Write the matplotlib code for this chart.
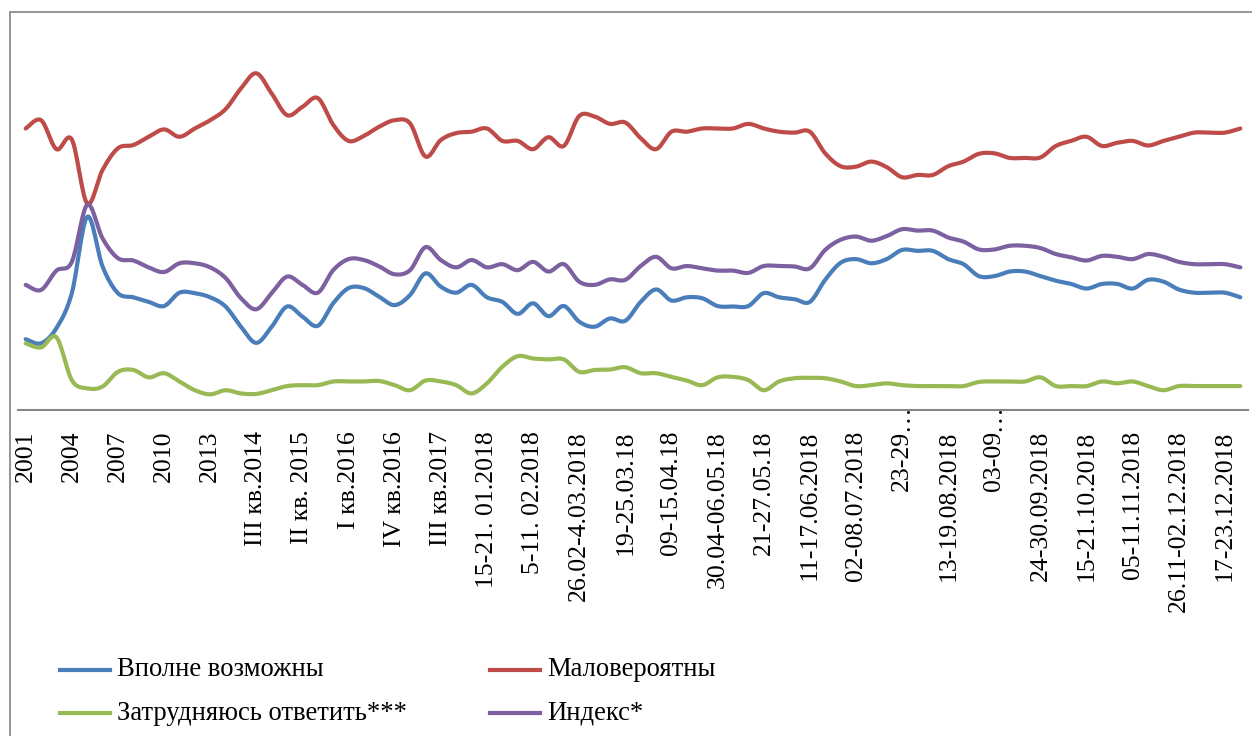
import numpy as np
import matplotlib
matplotlib.use("Agg")
import matplotlib.pyplot as plt
from matplotlib.lines import Line2D
from matplotlib.patches import Rectangle

# ---------------- data ----------------
tick_labels = ["2001", "2004", "2007", "2010", "2013", "III кв.2014", "II кв. 2015",
               "I кв.2016", "IV кв.2016", "III кв.2017", "15-21. 01.2018", "5-11. 02.2018",
               "26.02-4.03.2018", "19-25.03.18", "09-15.04.18", "30.04-06.05.18",
               "21-27.05.18", "11-17.06.2018", "02-08.07.2018", "23-29…", "13-19.08.2018",
               "03-09…", "24-30.09.2018", "15-21.10.2018", "05-11.11.2018",
               "26.11-02.12.2018", "17-23.12.2018"]
label_step = 3

vpolne = [15.4, 14.5, 17.8, 25.4, 42.0, 31.2, 25.4, 24.5, 23.5, 22.6,
          25.5, 25.4, 24.5, 22.5, 18.1, 14.6, 18.1, 22.5, 20.3, 18.3,
          23.2, 26.5, 26.5, 24.6, 22.8, 25.0, 29.7, 26.8, 25.5, 27.2,
          24.5, 23.5, 20.9, 23.2, 20.4, 22.6, 19.2, 18.1, 19.9, 19.4,
          23.5, 26.2, 23.8, 24.5, 24.3, 22.6, 22.5, 22.6, 25.4, 24.5,
          24.1, 23.5, 28.3, 32.0, 32.8, 31.9, 32.8, 34.8, 34.6, 34.6,
          32.8, 31.7, 29.1, 29.1, 30.1, 30.1, 29.1, 28.1, 27.4, 26.4,
          27.4, 27.4, 26.4, 28.3, 27.9, 26.2, 25.5, 25.5, 25.5, 24.5]

malover = [61.2, 63.0, 56.7, 58.8, 44.9, 52.2, 56.9, 57.6, 59.4, 61.0,
           59.4, 61.2, 63.0, 65.4, 69.9, 73.2, 68.8, 64.1, 65.9, 67.8,
           62.0, 58.5, 59.6, 61.6, 63.0, 62.3, 55.1, 58.7, 60.2, 60.5,
           61.2, 58.5, 58.5, 56.7, 59.3, 57.4, 63.9, 63.8, 62.2, 62.5,
           59.1, 56.7, 60.5, 60.5, 61.2, 61.2, 61.2, 62.2, 61.2, 60.5,
           60.3, 60.5, 55.8, 53.0, 52.9, 54.0, 52.8, 50.6, 51.1, 51.1,
           53.0, 54.0, 55.7, 55.8, 54.8, 54.8, 54.9, 57.4, 58.5, 59.4,
           57.4, 58.1, 58.5, 57.5, 58.5, 59.4, 60.3, 60.3, 60.3, 61.2]

zatrud = [14.5, 13.6, 15.8, 6.5, 4.7, 5.1, 8.3, 8.7, 7.1, 8.0,
          6.2, 4.3, 3.4, 4.3, 3.6, 3.5, 4.3, 5.2, 5.4, 5.4,
          6.2, 6.2, 6.2, 6.3, 5.4, 4.3, 6.4, 6.2, 5.4, 3.6,
          5.8, 9.4, 11.7, 11.2, 11.0, 11.0, 8.3, 8.7, 8.8, 9.3,
          8.0, 8.0, 7.2, 6.4, 5.4, 7.1, 7.2, 6.5, 4.3, 6.2,
          6.9, 7.0, 6.9, 6.2, 5.2, 5.4, 5.8, 5.4, 5.2, 5.2,
          5.2, 5.2, 6.1, 6.2, 6.2, 6.2, 7.1, 5.2, 5.2, 5.2,
          6.2, 5.8, 6.2, 5.2, 4.3, 5.2, 5.2, 5.2, 5.2, 5.2]

index_ = [27.2, 26.1, 30.3, 32.2, 44.6, 37.3, 33.0, 32.5, 31.0, 30.0,
          31.9, 31.9, 31.0, 28.7, 24.3, 21.9, 25.4, 29.0, 27.2, 25.5,
          30.4, 32.8, 32.6, 31.2, 29.5, 30.4, 35.4, 32.6, 31.0, 32.6,
          31.0, 31.7, 30.4, 32.2, 30.1, 31.7, 27.9, 27.2, 28.4, 28.3,
          31.3, 33.3, 30.8, 31.3, 30.8, 30.3, 30.3, 29.8, 31.3, 31.3,
          31.2, 30.8, 34.8, 37.0, 37.7, 36.8, 37.8, 39.3, 39.0, 39.0,
          37.5, 36.6, 34.9, 34.9, 35.7, 35.7, 35.2, 33.9, 33.2, 32.5,
          33.5, 33.3, 32.8, 33.9, 33.3, 32.2, 31.7, 31.7, 31.7, 31.0]

series_names = ["Вполне возможны", "Маловероятны", "Затрудняюсь ответить***", "Индекс*"]
series_colors = ["#4A7EBB", "#BE4B48", "#98B954", "#7D60A0"]


def smooth(y, n=16):
    """Catmull-Rom spline through the points (Excel-like smoothed line)."""
    y = np.asarray(y, float)
    x = np.arange(len(y), dtype=float)
    px = np.concatenate([[x[0]], x, [x[-1]]])
    py = np.concatenate([[y[0]], y, [y[-1]]])
    xs, ys = [], []
    t = np.linspace(0, 1, n, endpoint=False)
    for i in range(1, len(px) - 2):
        for arr, out in ((px, xs), (py, ys)):
            p0, p1, p2, p3 = arr[i - 1], arr[i], arr[i + 1], arr[i + 2]
            m1 = (p2 - p0) / 2.0
            m2 = (p3 - p1) / 2.0
            h00 = 2 * t**3 - 3 * t**2 + 1
            h10 = t**3 - 2 * t**2 + t
            h01 = -2 * t**3 + 3 * t**2
            h11 = t**3 - t**2
            out.append(h00 * p1 + h10 * m1 + h01 * p2 + h11 * m2)
    xs.append([x[-1]])
    ys.append([y[-1]])
    return np.concatenate(xs), np.concatenate(ys)


W, H = 1252, 736
fig = plt.figure(figsize=(W / 100, H / 100), dpi=100)
serif = ["Liberation Serif", "DejaVu Serif"]

# outer chart-area border (left & top visible)
fig.add_artist(Rectangle((10 / W, -0.1), 1.2, (H - 12) / H + 0.1, transform=fig.transFigure,
                         fill=False, edgecolor="#8C8C8C", linewidth=1.3))

ax_left, ax_right = 18, 1248
ax_bottom_px, ymax = 410, 85.0
px_per_unit = 4.6
ax_top_px = ax_bottom_px - ymax * px_per_unit
ax = fig.add_axes([ax_left / W, (H - ax_bottom_px) / H, (ax_right - ax_left) / W,
                   (ax_bottom_px - ax_top_px) / H])
ax.set_facecolor("none")

n = len(vpolne)
for vals, col in zip([vpolne, malover, zatrud, index_], series_colors):
    sx, sy = smooth(vals)
    ax.plot(sx, sy, color=col, linewidth=3.0, solid_capstyle="round", solid_joinstyle="round")

ax.set_xlim(-0.5, n - 0.5)
ax.set_ylim(0, ymax)
for s in ["left", "right", "top"]:
    ax.spines[s].set_visible(False)
ax.spines["bottom"].set_color("#868686")
ax.spines["bottom"].set_linewidth(1.5)
ax.set_yticks([])

tick_fs = 18.5
ticks = np.arange(0, n, label_step)[:len(tick_labels)]
ax.set_xticks(ticks)
shown = [lab.replace("…", "") for lab in tick_labels]
ax.set_xticklabels(shown, rotation=90, fontsize=tick_fs, family=serif, va="top", ha="center")
ax.tick_params(axis="x", length=0, pad=15)
for tk, lab in zip(ticks, tick_labels):
    if lab.endswith("…"):
        ax.annotate("…", xy=(tk, 0), xycoords="data", xytext=(0, -15), textcoords="offset points",
                    rotation=90, ha="center", va="bottom", fontsize=tick_fs, family=serif)

# legend (manual placement)
leg_cols = [60, 490]
leg_rows = [670, 713]
order = [(0, 0, 0), (1, 1, 0), (2, 0, 1), (3, 1, 1)]
for si, c, r in order:
    xl = leg_cols[c]
    yl = leg_rows[r]
    fig.add_artist(Line2D([xl / W, (xl + 50) / W], [1 - yl / H, 1 - yl / H],
                          transform=fig.transFigure, color=series_colors[si], linewidth=3.0))
    fig.text((xl + 57) / W, 1 - yl / H, series_names[si], fontsize=19.2, family=serif,
             ha="left", va="center")

fig.savefig("out.png", dpi=100)
